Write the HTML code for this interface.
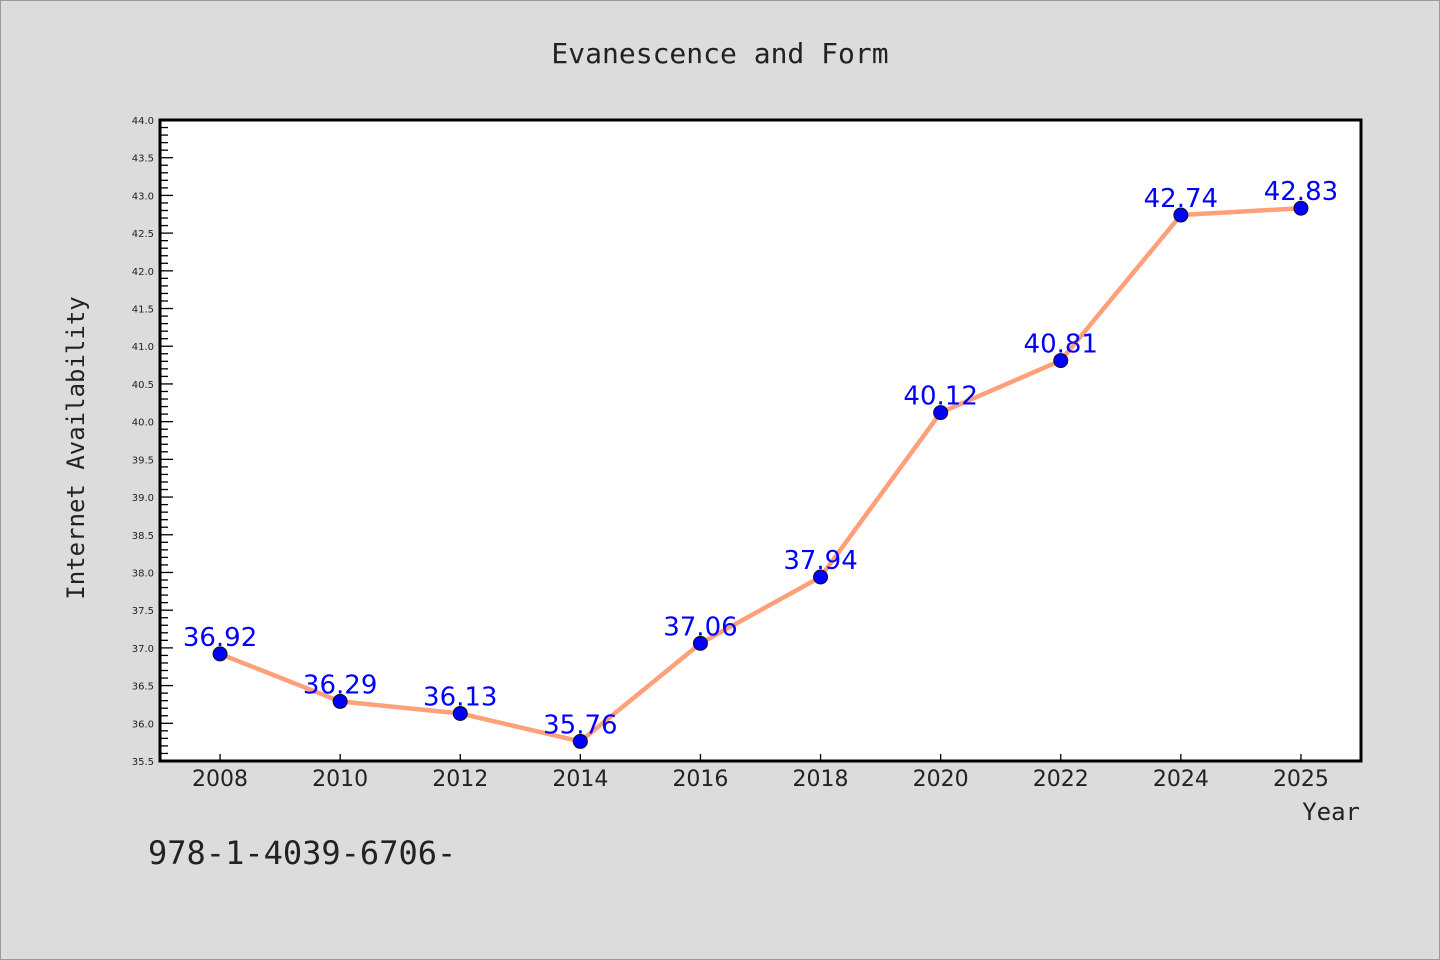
<!DOCTYPE html>
<html><head><meta charset="utf-8"><style>
html,body{margin:0;padding:0;background:#dcdcdc;}
svg{display:block;}
</style></head><body>
<svg id="chart" width="1440" height="960" xmlns="http://www.w3.org/2000/svg">
<rect x="0.5" y="0.5" width="1439" height="959" fill="#dcdcdc" stroke="#999"/>
<text x="720" y="63" text-anchor="middle" font-family="DejaVu Sans Mono, Liberation Mono, monospace" font-size="28" fill="#222">Evanescence and Form</text>
<rect x="160" y="120" width="1201" height="641" fill="#fff"/>
<g id="yticks"></g><g id="xticks"></g>
<g id="series"></g>
<rect x="160" y="120" width="1201" height="641" fill="none" stroke="#000" stroke-width="3"/>
<text transform="translate(84,448) rotate(-90)" text-anchor="middle" font-family="DejaVu Sans Mono, Liberation Mono, monospace" font-size="24" fill="#222">Internet Availability</text>
<text x="1360" y="820" text-anchor="end" font-family="DejaVu Sans Mono, Liberation Mono, monospace" font-size="24" fill="#222">Year</text>
<text x="148" y="864" font-family="DejaVu Sans Mono, Liberation Mono, monospace" font-size="32" fill="#222">978-1-4039-6706-</text>
</svg>
<script>
const categories = ["2008","2010","2012","2014","2016","2018","2020","2022","2024","2025"];
const values = [36.92,36.29,36.13,35.76,37.06,37.94,40.12,40.81,42.74,42.83];
const valueLabels = ["36.92","36.29","36.13","35.76","37.06","37.94","40.12","40.81","42.74","42.83"];
const yMin = 35.5, yMax = 44.0;
const NS="http://www.w3.org/2000/svg";
const L=160,R=1361,T=120,B=761;
function yS(v){return B-(v-yMin)/(yMax-yMin)*(B-T);}
function xS(i){return L+(i+0.5)*(R-L)/categories.length;}
function mk(tag,attrs,parent){const e=document.createElementNS(NS,tag);for(const k in attrs)e.setAttribute(k,attrs[k]);parent.appendChild(e);return e;}
const yt=document.getElementById('yticks');
for(let k=0;k<=Math.round((yMax-yMin)*10);k++){
  const v=yMin+k*0.1, y=yS(v), major=k%5===0;
  const t=mk('line',{x1:L,x2:L+(major?13:8),y1:y,y2:y,stroke:'#000','stroke-width':1.3},yt);
  
  
  if(major){
    const tx=mk('text',{x:L-6,y:y+4,'text-anchor':'end','font-family':'DejaVu Sans, Liberation Sans, sans-serif','font-size':10,fill:'#222'},yt);
    tx.textContent=v.toFixed(1);
    
    
  }
}
const xt=document.getElementById('xticks');
categories.forEach((c,i)=>{
  const x=xS(i);
  const t=mk('line',{x1:x,x2:x,y1:B,y2:B-7,stroke:'#000','stroke-width':1.3},xt);
  
  
  const tx=mk('text',{x:x,y:B+25,'text-anchor':'middle','font-family':'DejaVu Sans, Liberation Sans, sans-serif','font-size':22,fill:'#222'},xt);
  tx.textContent=c;
  
  
});
const s=document.getElementById('series');
const line=mk('polyline',{points:values.map((v,i)=>xS(i)+','+yS(v)).join(' '),fill:'none',stroke:'#ffa07a','stroke-width':4.5,'stroke-linejoin':'round'},s);


values.forEach((v,i)=>{
  const c=mk('circle',{cx:xS(i),cy:yS(v),r:7,fill:'#0000ff',stroke:'#111','stroke-width':1},s);
  
  
});
values.forEach((v,i)=>{
  const t=mk('text',{x:xS(i),y:yS(v)-8,'text-anchor':'middle','font-family':'DejaVu Sans, Liberation Sans, sans-serif','font-size':26,fill:'#0000ff'},s);
  t.textContent=valueLabels[i];
  
  
});
</script>
</body></html>
